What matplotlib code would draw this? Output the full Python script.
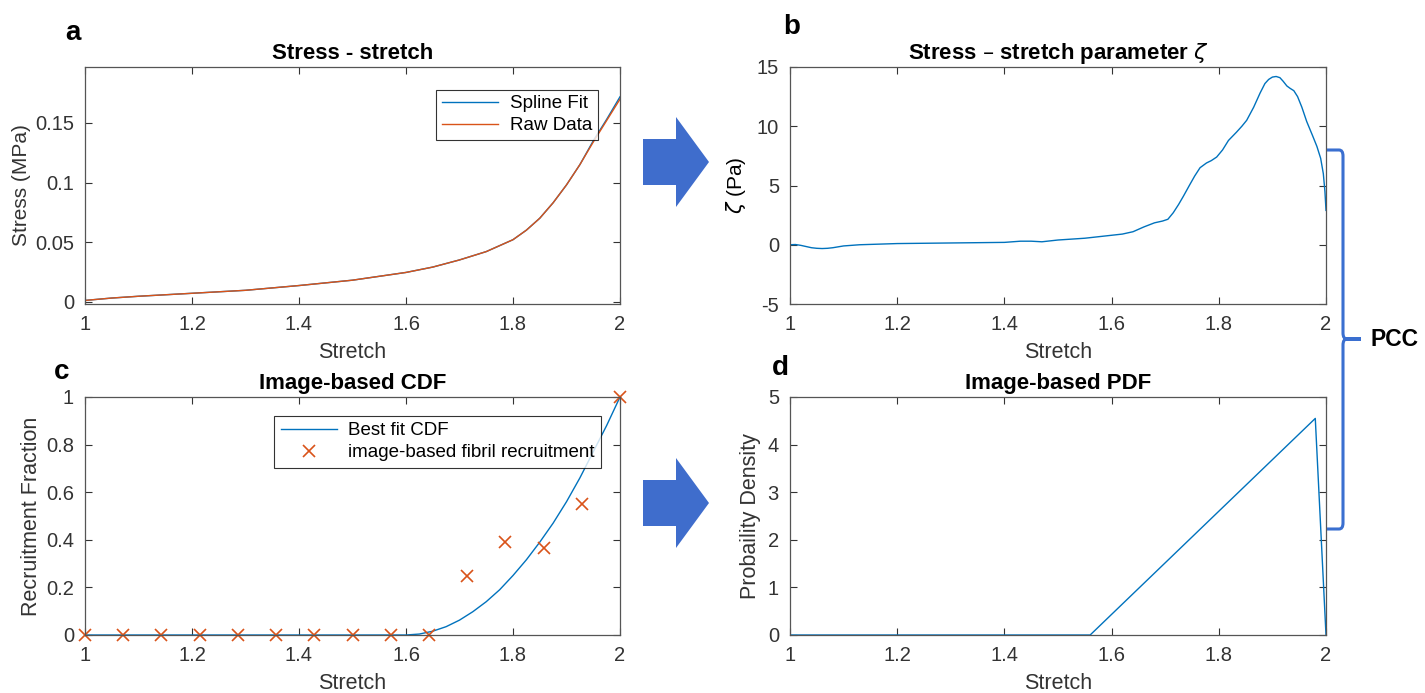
import numpy as np
import matplotlib.pyplot as plt
from matplotlib.patches import Polygon, PathPatch
from matplotlib.path import Path

plt.rcParams['font.family'] = ['Liberation Sans', 'DejaVu Sans']
plt.rcParams['axes.unicode_minus'] = False

# panel a: stress - stretch
stretch_a = [1.0, 1.05, 1.1, 1.2, 1.3, 1.4, 1.5, 1.6, 1.65, 1.7, 1.75, 1.8,
             1.825, 1.85, 1.875, 1.9, 1.925, 1.95, 1.975, 2.0]
stress_spline = [0.001, 0.003, 0.0045, 0.007, 0.0095, 0.0135, 0.018, 0.0245,
                 0.029, 0.035, 0.042, 0.052, 0.06, 0.07, 0.083, 0.098, 0.115,
                 0.135, 0.153, 0.172]
stress_raw = [0.001, 0.003, 0.0045, 0.007, 0.0095, 0.0135, 0.018, 0.0245,
              0.029, 0.035, 0.042, 0.052, 0.06, 0.07, 0.083, 0.098, 0.115,
              0.134, 0.152, 0.170]

# panel b: zeta
stretch_b = [1.0, 1.01, 1.02, 1.03, 1.04, 1.05, 1.06, 1.07, 1.08, 1.1, 1.13,
             1.2, 1.3, 1.4, 1.43, 1.45, 1.47, 1.5, 1.55, 1.6, 1.62, 1.64, 1.66,
             1.68, 1.695, 1.705, 1.715, 1.725, 1.734, 1.745, 1.755, 1.765,
             1.777, 1.786, 1.796, 1.807, 1.818, 1.833, 1.843, 1.852, 1.865,
             1.877, 1.886, 1.893, 1.9, 1.907, 1.914, 1.92, 1.927, 1.933, 1.94,
             1.947, 1.955, 1.964, 1.975, 1.983, 1.99, 1.995, 1.998, 2.0]
zeta = [0.0, 0.02, -0.05, -0.15, -0.25, -0.3, -0.32, -0.3, -0.25, -0.1, 0.0,
        0.1, 0.15, 0.2, 0.3, 0.3, 0.25, 0.4, 0.55, 0.8, 0.9, 1.1, 1.5,
        1.85, 2.0, 2.15, 2.7, 3.4, 4.1, 5.0, 5.8, 6.5, 6.9, 7.1, 7.4, 8.0,
        8.8, 9.5, 10.0, 10.5, 11.6, 12.8, 13.6, 13.95, 14.15, 14.2, 14.1,
        13.8, 13.4, 13.2, 13.0, 12.5, 11.6, 10.4, 9.2, 8.3, 7.3, 6.0, 4.5, 2.9]

# panel c: CDF
stretch_cdf = [1.0, 1.6, 1.625, 1.65, 1.675, 1.7, 1.725, 1.75, 1.775, 1.8,
               1.825, 1.85, 1.875, 1.9, 1.925, 1.95, 1.975, 2.0]
cdf_fit = [0.0, 0.0, 0.004, 0.016, 0.035, 0.0625, 0.098, 0.14, 0.19, 0.25,
           0.316, 0.39, 0.47, 0.56, 0.66, 0.77, 0.88, 1.0]
stretch_pts = [1.0, 1.0714, 1.1429, 1.2143, 1.2857, 1.3571, 1.4286, 1.5,
               1.5714, 1.6429, 1.7143, 1.7857, 1.8571, 1.9286, 2.0]
recruit_pts = [0, 0, 0, 0, 0, 0, 0, 0, 0, 0, 0.25, 0.39, 0.365, 0.55, 1.0]

# panel d: PDF
stretch_pdf = [1.0, 1.56, 1.98, 2.0]
pdf_vals = [0.0, 0.0, 4.55, 0.0]

W, H = 1425, 693
fig = plt.figure(figsize=(W / 100, H / 100), dpi=100)

BLUE = '#0072BD'
ORANGE = '#D95319'
GRAY = '#333333'


def px_axes(left, top, right, bottom):
    return fig.add_axes([left / W, 1 - bottom / H, (right - left) / W, (bottom - top) / H])


def style(ax):
    ax.tick_params(direction='in', top=True, right=True, length=5, width=0.8,
                   labelsize=14.5, colors=GRAY, pad=8)
    for s in ax.spines.values():
        s.set_color('#555555')
        s.set_linewidth(0.9)
    ax.set_xlim(1, 2)
    ax.set_xticks([1, 1.2, 1.4, 1.6, 1.8, 2])
    ax.set_xticklabels(['1', '1.2', '1.4', '1.6', '1.8', '2'])
    ax.set_xlabel('Stretch', fontsize=15.5, color=GRAY, labelpad=6)


axa = px_axes(85, 67, 620, 304)
axb = px_axes(790, 67, 1326, 304)
axc = px_axes(85, 397, 620, 635)
axd = px_axes(790, 397, 1326, 635)

# a
axa.plot(stretch_a, stress_spline, color=BLUE, lw=1, label='Spline Fit')
axa.plot(stretch_a, stress_raw, color=ORANGE, lw=1, label='Raw Data')
style(axa)
axa.set_ylim(-0.002, 0.197)
axa.set_yticks([0, 0.05, 0.1, 0.15])
axa.set_yticklabels(['0', '0.05', '0.1', '0.15'])
axa.set_ylabel('Stress (MPa)', fontsize=15, color=GRAY, labelpad=3)
axa.set_title('Stress - stretch', fontsize=16, fontweight='bold', pad=6)
leg = axa.legend(loc='upper right', fontsize=13.5, frameon=True, fancybox=False,
                 edgecolor='black', handlelength=3.0, borderaxespad=1.2,
                 labelspacing=0.25, borderpad=0.3, handletextpad=0.6)
leg.get_frame().set_linewidth(0.8)

# b
axb.plot(stretch_b, zeta, color=BLUE, lw=1)
style(axb)
axb.set_ylim(-5, 15)
axb.set_yticks([-5, 0, 5, 10, 15])
axb.set_ylabel(r'$\zeta$ (Pa)', fontsize=15, color='black', labelpad=6)
axb.set_title(r'Stress – stretch parameter $\zeta$', fontsize=16, fontweight='bold', pad=6)

# c
axc.plot(stretch_cdf, cdf_fit, color=BLUE, lw=1, label='Best fit CDF')
axc.plot(stretch_pts, recruit_pts, 'x', color=ORANGE, ms=8, mew=1.2,
         ls='none', label='image-based fibril recruitment', clip_on=False)
style(axc)
axc.set_ylim(0, 1)
axc.set_yticks([0, 0.2, 0.4, 0.6, 0.8, 1])
axc.set_yticklabels(['0', '0.2', '0.4', '0.6', '0.8', '1'])
axc.set_ylabel('Recruitment Fraction', fontsize=15.5, color=GRAY, labelpad=3)
axc.set_title('Image-based CDF', fontsize=16, fontweight='bold', pad=6)
leg = axc.legend(loc='upper right', fontsize=13.5, frameon=True, fancybox=False,
                 edgecolor='black', handlelength=3.0, borderaxespad=1.0,
                 labelspacing=0.25, borderpad=0.35, handletextpad=0.6)
leg.get_frame().set_linewidth(0.8)

# d
axd.plot(stretch_pdf, pdf_vals, color=BLUE, lw=1)
style(axd)
axd.set_ylim(0, 5)
axd.set_yticks([0, 1, 2, 3, 4, 5])
axd.set_ylabel('Probaility Density', fontsize=15.5, color=GRAY, labelpad=5)
axd.set_title('Image-based PDF', fontsize=16, fontweight='bold', pad=6)

# panel letters
for lab, x, y in [('a', 73, 33), ('b', 792, 27), ('c', 62, 372), ('d', 780, 368)]:
    fig.text(x / W, 1 - y / H, lab, fontsize=20, fontweight='bold',
             ha='center', va='center')


def fpt(x, y):
    return (x / W, 1 - y / H)


# block arrows
for top, mid, bot in [(117, 162, 207), (458, 503, 548)]:
    bt, bb = mid - 23, mid + 23
    pts = [fpt(643, bt), fpt(676, bt), fpt(676, top), fpt(709, mid),
           fpt(676, bot), fpt(676, bb), fpt(643, bb)]
    fig.patches.append(Polygon(pts, closed=True, transform=fig.transFigure,
                               facecolor='#3f6dcc', edgecolor='none'))

# bracket
verts = [fpt(1327, 150), fpt(1339, 150), fpt(1343, 150), fpt(1343, 156),
         fpt(1343, 333), fpt(1343, 339), fpt(1347, 339), fpt(1361, 339),
         fpt(1347, 339), fpt(1343, 339), fpt(1343, 345),
         fpt(1343, 523), fpt(1343, 529), fpt(1339, 529), fpt(1327, 529)]
codes = [Path.MOVETO, Path.LINETO, Path.CURVE3, Path.CURVE3,
         Path.LINETO, Path.CURVE3, Path.CURVE3, Path.LINETO,
         Path.LINETO, Path.CURVE3, Path.CURVE3,
         Path.LINETO, Path.CURVE3, Path.CURVE3, Path.LINETO]
fig.patches.append(PathPatch(Path(verts, codes), transform=fig.transFigure,
                             facecolor='none', edgecolor='#3a6fd0', lw=2.2))
fig.text(1371 / W, 1 - 340 / H, 'PCC', fontsize=16.5, fontweight='bold',
         ha='left', va='center')

fig.savefig('out.png', dpi=100, facecolor='white')
